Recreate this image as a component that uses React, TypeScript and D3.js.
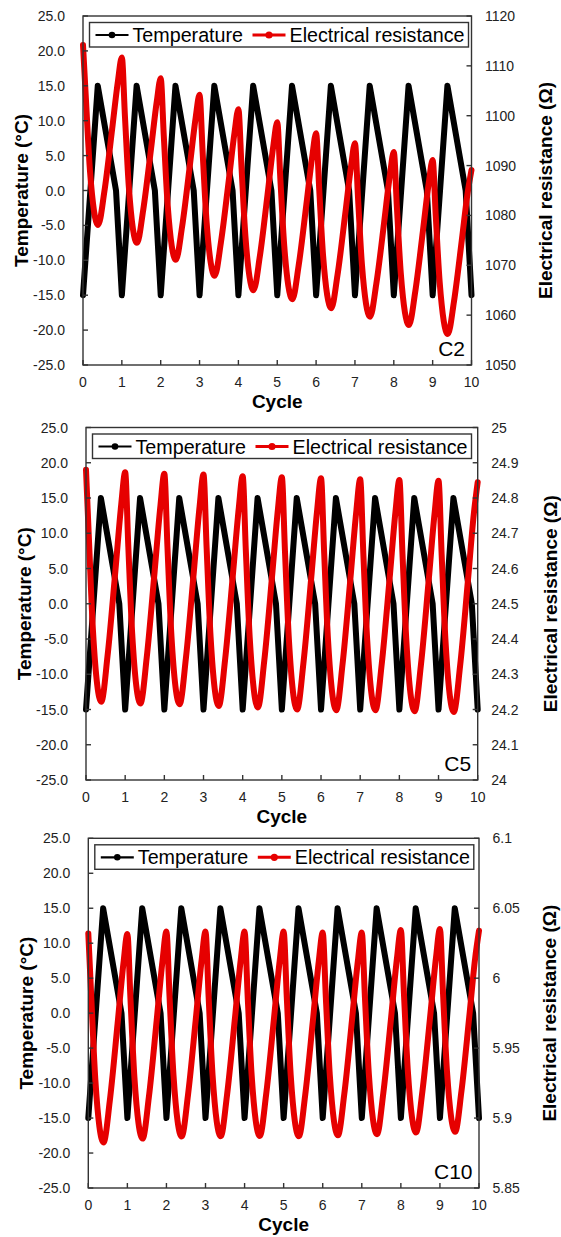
import React from "react";
import * as d3 from "d3";

const CYCLE_TICKS = [0, 1, 2, 3, 4, 5, 6, 7, 8, 9, 10];
const TEMP_TICKS = [25, 20, 15, 10, 5, 0, -5, -10, -15, -20, -25];

// Temperature (°C) vs cycle – identical profile in every panel
const TEMP_X = [
  0, 0.38, 0.85, 1, 1.38, 1.85, 2, 2.38, 2.85, 3, 3.38, 3.85, 4, 4.38, 4.85,
  5, 5.38, 5.85, 6, 6.38, 6.85, 7, 7.38, 7.85, 8, 8.38, 8.85, 9, 9.38, 9.85, 10,
];
const TEMP_Y = [
  -15, 15, 0, -15, 15, 0, -15, 15, 0, -15, 15, 0, -15, 15, 0,
  -15, 15, 0, -15, 15, 0, -15, 15, 0, -15, 15, 0, -15, 15, 0, -15,
];

// Resistance sample positions (cycle)
const R_X = [
  0, 0.08, 0.18, 0.39, 0.55, 0.75, 0.9,
  1, 1.08, 1.18, 1.39, 1.55, 1.75, 1.9,
  2, 2.08, 2.18, 2.39, 2.55, 2.75, 2.9,
  3, 3.08, 3.18, 3.39, 3.55, 3.75, 3.9,
  4, 4.08, 4.18, 4.39, 4.55, 4.75, 4.9,
  5, 5.08, 5.18, 5.39, 5.55, 5.75, 5.9,
  6, 6.08, 6.18, 6.39, 6.55, 6.75, 6.9,
  7, 7.08, 7.18, 7.39, 7.55, 7.75, 7.9,
  8, 8.08, 8.18, 8.39, 8.55, 8.75, 8.9,
  9, 9.08, 9.18, 9.39, 9.55, 9.75, 9.9,
  10,
];

const C2_R = [
  1114.2, 1102.6, 1088.9, 1078.1, 1084.8, 1097.3, 1107.0,
  1111.7, 1099.8, 1085.7, 1074.5, 1081.1, 1093.3, 1102.9,
  1107.5, 1095.9, 1082.0, 1071.1, 1077.7, 1090.0, 1099.6,
  1104.2, 1092.6, 1078.8, 1067.9, 1074.6, 1086.9, 1096.6,
  1101.3, 1089.7, 1075.9, 1065.0, 1071.7, 1084.2, 1094.0,
  1098.7, 1087.3, 1073.9, 1063.2, 1069.9, 1082.2, 1091.8,
  1096.5, 1085.3, 1071.9, 1061.4, 1068.0, 1080.3, 1089.9,
  1094.5, 1083.4, 1070.1, 1059.7, 1066.3, 1078.5, 1088.1,
  1092.7, 1081.6, 1068.4, 1058.0, 1064.6, 1076.9, 1086.5,
  1091.1, 1079.9, 1066.7, 1056.2, 1062.8, 1075.0, 1084.5,
  1089.1,
];

const C5_R = [
  24.880, 24.669, 24.419, 24.222, 24.352, 24.593, 24.782,
  24.873, 24.663, 24.414, 24.217, 24.347, 24.589, 24.778,
  24.869, 24.660, 24.411, 24.215, 24.345, 24.587, 24.776,
  24.867, 24.657, 24.407, 24.210, 24.340, 24.582, 24.771,
  24.862, 24.652, 24.403, 24.206, 24.337, 24.578, 24.768,
  24.859, 24.648, 24.398, 24.200, 24.331, 24.574, 24.764,
  24.856, 24.645, 24.395, 24.198, 24.329, 24.571, 24.761,
  24.853, 24.643, 24.395, 24.198, 24.329, 24.570, 24.760,
  24.851, 24.641, 24.392, 24.195, 24.326, 24.568, 24.757,
  24.849, 24.639, 24.390, 24.193, 24.323, 24.565, 24.754,
  24.845,
];

const C10_R = [
  6.032, 5.9842, 5.9274, 5.8825, 5.9123, 5.9675, 6.0107,
  6.0316, 5.9848, 5.9292, 5.8853, 5.9149, 5.9697, 6.0126,
  6.0333, 5.9864, 5.9308, 5.8868, 5.9161, 5.9703, 6.0128,
  6.0333, 5.9865, 5.9309, 5.887, 5.9163, 5.9704, 6.0128,
  6.0333, 5.9865, 5.931, 5.8872, 5.9164, 5.9705, 6.0128,
  6.0333, 5.9865, 5.9309, 5.887, 5.9161, 5.97, 6.0122,
  6.0326, 5.9862, 5.9312, 5.8877, 5.9167, 5.9703, 6.0123,
  6.0326, 5.9865, 5.9317, 5.8885, 5.9177, 5.9717, 6.0141,
  6.0345, 5.9882, 5.9331, 5.8897, 5.9188, 5.9726, 6.0148,
  6.0352, 5.9888, 5.9337, 5.8902, 5.919, 5.9722, 6.0139,
  6.034,
];

const C2_TICKS = [1050, 1060, 1070, 1080, 1090, 1100, 1110, 1120];
const C5_TICKS = [24, 24.1, 24.2, 24.3, 24.4, 24.5, 24.6, 24.7, 24.8, 24.9, 25];
const C10_TICKS = [5.85, 5.9, 5.95, 6, 6.05, 6.1];

const LEGEND_LABELS = ["Temperature", "Electrical resistance"];

const FONT = "Arial, 'Liberation Sans', Helvetica, sans-serif";
const RED = "#e60000";
const AXIS = "#333333";

type Lay = { left: number; right: number; top: number; bottom: number; rTitleX: number };

function Panel(props: {
  lay: Lay;
  rTicks: number[];
  rData: number[];
  label: string;
}) {
  const { lay, rTicks, rData, label } = props;
  const x = d3.scaleLinear().domain([0, 10]).range([lay.left, lay.right]);
  const yT = d3.scaleLinear().domain([-25, 25]).range([lay.bottom, lay.top]);
  const yR = d3
    .scaleLinear()
    .domain([rTicks[0], rTicks[rTicks.length - 1]])
    .range([lay.bottom, lay.top]);

  const tLine = d3
    .line<number>()
    .x((_d, i) => x(TEMP_X[i]))
    .y((d) => yT(d));
  const rLine = d3
    .line<number>()
    .x((_d, i) => x(R_X[i]))
    .y((d) => yR(d))
    .curve(d3.curveMonotoneX);

  const cy = (lay.top + lay.bottom) / 2;
  const cx = (lay.left + lay.right) / 2;

  const boxX = lay.left + 6.5;
  const boxY = lay.top + 6.5;
  const boxW = 379;
  const boxH = 24.5;
  const lgY = boxY + 12.5;
  const txtY = boxY + 19.5;

  return (
    <g>
      {/* data */}
      <path
        d={tLine(TEMP_Y) || ""}
        fill="none"
        stroke="#000"
        strokeWidth={6}
        strokeLinejoin="round"
        strokeLinecap="round"
      />
      <path
        d={rLine(rData) || ""}
        fill="none"
        stroke={RED}
        strokeWidth={6}
        strokeLinejoin="round"
        strokeLinecap="round"
      />

      {/* frame */}
      <rect
        x={lay.left}
        y={lay.top}
        width={lay.right - lay.left}
        height={lay.bottom - lay.top}
        fill="none"
        stroke={AXIS}
        strokeWidth={1.4}
      />

      {/* left ticks */}
      {TEMP_TICKS.map((t) => (
        <g key={"lt" + t}>
          <line x1={lay.left} x2={lay.left + 5} y1={yT(t)} y2={yT(t)} stroke={AXIS} strokeWidth={1.4} />
          <text
            x={lay.left - 18}
            y={yT(t) + 5}
            textAnchor="end"
            fontFamily={FONT}
            fontSize={14}
            fill="#222"
          >
            {t.toFixed(1)}
          </text>
        </g>
      ))}

      {/* right ticks */}
      {rTicks.map((t) => (
        <g key={"rt" + t}>
          <line x1={lay.right - 5} x2={lay.right} y1={yR(t)} y2={yR(t)} stroke={AXIS} strokeWidth={1.4} />
          <text
            x={lay.right + 13.5}
            y={yR(t) + 5}
            textAnchor="start"
            fontFamily={FONT}
            fontSize={14}
            fill="#222"
          >
            {String(t)}
          </text>
        </g>
      ))}

      {/* bottom ticks */}
      {CYCLE_TICKS.map((t) => (
        <g key={"bt" + t}>
          <line x1={x(t)} x2={x(t)} y1={lay.bottom} y2={lay.bottom - 5} stroke={AXIS} strokeWidth={1.4} />
          <text
            x={x(t)}
            y={lay.bottom + 21.5}
            textAnchor="middle"
            fontFamily={FONT}
            fontSize={14}
            fill="#222"
          >
            {String(t)}
          </text>
        </g>
      ))}

      {/* axis titles */}
      <text
        x={cx}
        y={lay.bottom + 43}
        textAnchor="middle"
        fontFamily={FONT}
        fontSize={19}
        fontWeight="bold"
        fill="#000"
      >
        Cycle
      </text>
      <text
        transform={`translate(${lay.left - 55},${cy}) rotate(-90)`}
        textAnchor="middle"
        fontFamily={FONT}
        fontSize={19}
        fontWeight="bold"
        fill="#000"
      >
        Temperature (°C)
      </text>
      <text
        transform={`translate(${lay.rTitleX},${cy}) rotate(-90)`}
        textAnchor="middle"
        fontFamily={FONT}
        fontSize={19}
        fontWeight="bold"
        fill="#000"
      >
        Electrical resistance (Ω)
      </text>

      {/* panel label */}
      <text
        x={lay.right - 6.5}
        y={lay.bottom - 9}
        textAnchor="end"
        fontFamily={FONT}
        fontSize={21}
        fill="#000"
      >
        {label}
      </text>

      {/* legend */}
      <rect x={boxX} y={boxY} width={boxW} height={boxH} fill="#fff" stroke={AXIS} strokeWidth={1.4} />
      <line x1={boxX + 6} x2={boxX + 39} y1={lgY} y2={lgY} stroke="#000" strokeWidth={2.2} />
      <circle cx={boxX + 22.5} cy={lgY} r={3.3} fill="#000" />
      <text x={boxX + 43} y={txtY} fontFamily={FONT} fontSize={19.7} fill="#000">
        {LEGEND_LABELS[0]}
      </text>
      <line x1={boxX + 163} x2={boxX + 196} y1={lgY} y2={lgY} stroke={RED} strokeWidth={3} />
      <circle cx={boxX + 179.5} cy={lgY} r={3.6} fill={RED} />
      <text x={boxX + 200} y={txtY} fontFamily={FONT} fontSize={19.7} fill="#000">
        {LEGEND_LABELS[1]}
      </text>
    </g>
  );
}

export default function App() {
  const l1: Lay = { left: 83, right: 471.5, top: 16, bottom: 365, rTitleX: 551.5 };
  const l2: Lay = { left: 86, right: 477.7, top: 427.5, bottom: 780, rTitleX: 557 };
  const l3: Lay = { left: 88.3, right: 479, top: 838.3, bottom: 1188, rTitleX: 556 };
  return (
    <svg
      width={561}
      height={1237}
      viewBox="0 0 561 1237"
      style={{ position: "absolute", left: 0, top: 0, background: "#fff" }}
    >
      <rect x={0} y={0} width={561} height={1237} fill="#fff" />
      <Panel lay={l1} rTicks={C2_TICKS} rData={C2_R} label="C2" />
      <Panel lay={l2} rTicks={C5_TICKS} rData={C5_R} label="C5" />
      <Panel lay={l3} rTicks={C10_TICKS} rData={C10_R} label="C10" />
    </svg>
  );
}
